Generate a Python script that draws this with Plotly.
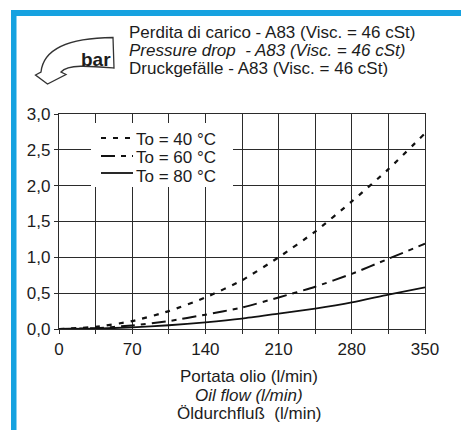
import plotly.graph_objects as go

# Oil flow (l/min) and pressure drop (bar) for valve A83, viscosity 46 cSt
flow = [0, 35, 70, 105, 140, 175, 210, 245, 280, 315, 350]
dp_40 = [0.0, 0.03, 0.11, 0.25, 0.44, 0.68, 1.00, 1.36, 1.78, 2.23, 2.73]
dp_60 = [0.0, 0.012, 0.05, 0.11, 0.20, 0.30, 0.44, 0.59, 0.77, 0.98, 1.19]
dp_80 = [0.0, 0.006, 0.023, 0.052, 0.093, 0.145, 0.215, 0.285, 0.37, 0.48, 0.58]

series_names = ["To = 40 °C", "To = 60 °C", "To = 80 °C"]
series_dash = ["5px,7px", "14px,6px,5px,6px", "solid"]
series_width = [2.2, 2.0, 1.8]

x_ticks = [0, 35, 70, 105, 140, 175, 210, 245, 280, 315, 350]
x_labels = ["0", "", "70", "", "140", "", "210", "", "280", "", "350"]
y_ticks = [0, 0.5, 1.0, 1.5, 2.0, 2.5, 3.0]
y_labels = ["0,0", "0,5", "1,0", "1,5", "2,0", "2,5", "3,0"]

title_lines = [
    "Perdita di carico - A83 (Visc. = 46 cSt)",
    "<i>Pressure drop  - A83 (Visc. = 46 cSt)</i>",
    "Druckgefälle - A83 (Visc. = 46 cSt)",
]
axis_lines = [
    "Portata olio (l/min)",
    "<i>Oil flow (l/min)</i>",
    "Öldurchfluß  (l/min)",
]

W, H = 461, 430
L, R, T, B = 59, 425, 114, 329  # plot area in pixels
FONT = "Liberation Sans, Arial, sans-serif"
INK = "#1c1c1c"
BLUE = "#16a2e0"


def px(xp):
    return (xp - L) / (R - L)


def py(yp):
    return (B - yp) / (B - T)


fig = go.Figure()
for ys, name, dash, w in zip([dp_40, dp_60, dp_80], series_names, series_dash, series_width):
    fig.add_trace(go.Scatter(
        x=flow, y=ys, mode="lines", name=name, showlegend=False,
        line=dict(color="#111111", width=w, dash=dash, shape="spline", smoothing=0.6),
        cliponaxis=True,
    ))

shapes = []
# blue frame (left and top edges)
shapes.append(dict(type="rect", xref="paper", yref="paper",
                   x0=px(11), x1=px(16.5), y0=py(440), y1=py(10),
                   fillcolor=BLUE, line=dict(width=0), layer="above"))
shapes.append(dict(type="rect", xref="paper", yref="paper",
                   x0=px(11), x1=px(470), y0=py(16), y1=py(10),
                   fillcolor=BLUE, line=dict(width=0), layer="above"))

# curved "bar" arrow
def P(x, y):
    return f"{px(x):.5f},{py(y):.5f}"

arrow = (f"M {P(113,37.5)} L {P(114,68)} "
         f"C {P(90,66)} {P(68,64)} {P(61,72)} "
         f"L {P(66,74.5)} L {P(47.5,84)} L {P(35.5,75)} L {P(41,72)} "
         f"C {P(43,53)} {P(62,38)} {P(113,37.5)} Z")
shapes.append(dict(type="path", xref="paper", yref="paper", path=arrow,
                   fillcolor="white", line=dict(color="#333333", width=1.3), layer="above"))

# legend box and samples
shapes.append(dict(type="rect", xref="paper", yref="paper",
                   x0=px(91), x1=px(233), y0=py(187), y1=py(123),
                   fillcolor="white", line=dict(width=0), layer="above"))
legend_rows = [138, 156, 173]
for yy, dash, w in zip(legend_rows, series_dash, series_width):
    shapes.append(dict(type="line", xref="paper", yref="paper",
                       x0=px(101), x1=px(133), y0=py(yy), y1=py(yy),
                       line=dict(color="#111111", width=w, dash=dash), layer="above"))

annotations = []
for yy, name in zip([139.5, 157.75, 176], series_names):
    annotations.append(dict(xref="paper", yref="paper", x=px(134), y=py(yy),
                            text=name, showarrow=False, xanchor="left", yanchor="middle",
                            font=dict(family=FONT, size=17, color=INK)))
for yy, txt in zip([32, 50.5, 68.5], title_lines):
    annotations.append(dict(xref="paper", yref="paper", x=px(127), y=py(yy),
                            text=txt, showarrow=False, xanchor="left", yanchor="middle",
                            font=dict(family=FONT, size=17, color=INK)))
for yy, txt in zip([376, 395, 413], axis_lines):
    annotations.append(dict(xref="paper", yref="paper", x=px(249), y=py(yy),
                            text=txt, showarrow=False, xanchor="center", yanchor="middle",
                            font=dict(family=FONT, size=17, color=INK)))
annotations.append(dict(xref="paper", yref="paper", x=px(96), y=py(59.5),
                        text="<b>bar</b>", showarrow=False, xanchor="center", yanchor="middle",
                        font=dict(family=FONT, size=19, color=INK)))

axis_common = dict(
    showgrid=True, gridcolor="#2b2b2b", gridwidth=1.3,
    showline=True, linecolor="#2b2b2b", linewidth=1.3, mirror=True,
    ticks="outside", ticklen=4, tickwidth=1.3, tickcolor="#2b2b2b",
    zeroline=False, tickfont=dict(family=FONT, size=17, color=INK),
)

fig.update_layout(
    width=W, height=H,
    margin=dict(l=L, r=W - R, t=T, b=H - B),
    paper_bgcolor="white", plot_bgcolor="white",
    xaxis=dict(range=[0, 350], tickmode="array", tickvals=x_ticks, ticktext=x_labels, **axis_common),
    yaxis=dict(range=[0, 3], tickmode="array", tickvals=y_ticks, ticktext=y_labels, **axis_common),
    shapes=shapes, annotations=annotations, showlegend=False,
)

fig.write_html("out.html")
